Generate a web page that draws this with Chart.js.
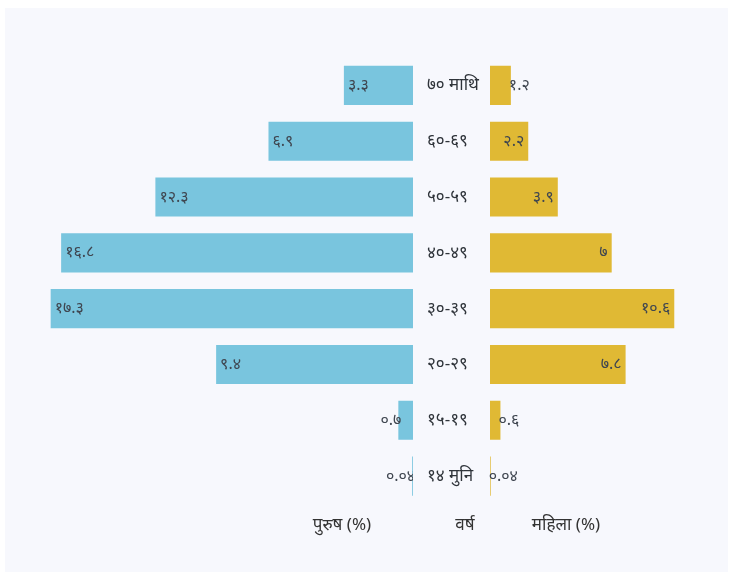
<!DOCTYPE html>
<html>
<head>
<meta charset="utf-8">
<script src="https://cdn.jsdelivr.net/npm/chart.js@4"></script>
<style>
  html, body { margin: 0; padding: 0; background: #fff; }
  body { width: 733px; height: 572px; position: relative; overflow: hidden;
         font-family: "Noto Sans", sans-serif; }
  #panel { position: absolute; left: 5px; top: 8px; width: 723px; height: 564px; background: #f7f8fd; }
  #men { position: absolute; left: 0; top: 0; }
  #women { position: absolute; left: 413px; top: 0; }
  .ttl { position: absolute; top: 512px; font-size: 17px; color: #333; transform: translateX(-50%); white-space: nowrap; }
</style>
</head>
<body>
<div id="panel"></div>
<canvas id="men" width="413" height="572"></canvas>
<canvas id="women" width="320" height="572"></canvas>
<div class="ttl" style="left:342px">पुरुष (%)</div>
<div class="ttl" style="left:465px">वर्ष</div>
<div class="ttl" style="left:566px">महिला (%)</div>
<script>
// आयु समूह (माथिबाट तल)
const ageGroups = ["७० माथि", "६०-६९", "५०-५९", "४०-४९", "३०-३९", "२०-२९", "१५-१९", "१४ मुनि"];
const menPct = [3.3, 6.9, 12.3, 16.8, 17.3, 9.4, 0.7, 0.04];
const womenPct = [1.2, 2.2, 3.9, 7, 10.6, 7.8, 0.6, 0.04];

const BLUE = "#79c5de", GOLD = "#e0b934";
const FONT = "'Noto Sans', sans-serif";

// अङ्कलाई देवनागरीमा
const devNum = (v) => String(v).replace(/[0-9]/g, (d) => "०१२३४५६७८९"[d]);

// बारको छेउमा मान लेख्ने plugin (भित्र अटे भित्र, नअटे बाहिर)
const valueLabels = {
  id: "valueLabels",
  afterDatasetsDraw(chart, args, opts) {
    const ctx = chart.ctx;
    const meta = chart.getDatasetMeta(0);
    const data = chart.data.datasets[0].data;
    ctx.save();
    ctx.font = "16px " + FONT;
    ctx.fillStyle = "#3f4650";
    ctx.textBaseline = "middle";
    meta.data.forEach((bar, i) => {
      const txt = devNum(data[i]);
      const w = ctx.measureText(txt).width;
      const len = Math.abs(bar.x - bar.base);
      const inside = len >= w + 8;
      if (opts.side === "left") {
        if (inside) { ctx.textAlign = "left"; ctx.fillText(txt, bar.x + 4, bar.y); }
        else { ctx.textAlign = "right"; ctx.fillText(txt, bar.x + 3, bar.y); }
      } else {
        if (inside) { ctx.textAlign = "right"; ctx.fillText(txt, bar.x - 4, bar.y); }
        else { ctx.textAlign = "left"; ctx.fillText(txt, bar.x - 2, bar.y); }
      }
    });
    ctx.restore();
  },
};

const common = {
  indexAxis: "y",
  responsive: false,
  animation: false,
  events: [],
};

new Chart(document.getElementById("men"), {
  type: "bar",
  data: { labels: ageGroups, datasets: [{ data: menPct, backgroundColor: BLUE, barPercentage: 0.7, categoryPercentage: 1 }] },
  options: {
    ...common,
    layout: { padding: { left: 36, right: 0, top: 57.5, bottom: 68 } },
    plugins: { legend: { display: false }, tooltip: { enabled: false }, valueLabels: { side: "left" } },
    scales: {
      x: { display: false, reverse: true, min: 0, max: 18 },
      y: { display: false },
    },
  },
  plugins: [valueLabels],
});

new Chart(document.getElementById("women"), {
  type: "bar",
  data: { labels: ageGroups, datasets: [{ data: womenPct, backgroundColor: GOLD, barPercentage: 0.7, categoryPercentage: 1 }] },
  options: {
    ...common,
    layout: { padding: { left: 14, right: 17, top: 57.5, bottom: 68 } },
    plugins: { legend: { display: false }, tooltip: { enabled: false }, valueLabels: { side: "right" } },
    scales: {
      x: { display: false, min: 0, max: 13 },
      y: {
        grid: { display: false, drawTicks: false },
        border: { display: false },
        ticks: { crossAlign: "far", padding: 0, color: "#2f343a", font: { family: FONT, size: 17 } },
        afterFit: (s) => { s.width = 63; },
      },
    },
  },
  plugins: [valueLabels],
});
</script>
</body>
</html>
